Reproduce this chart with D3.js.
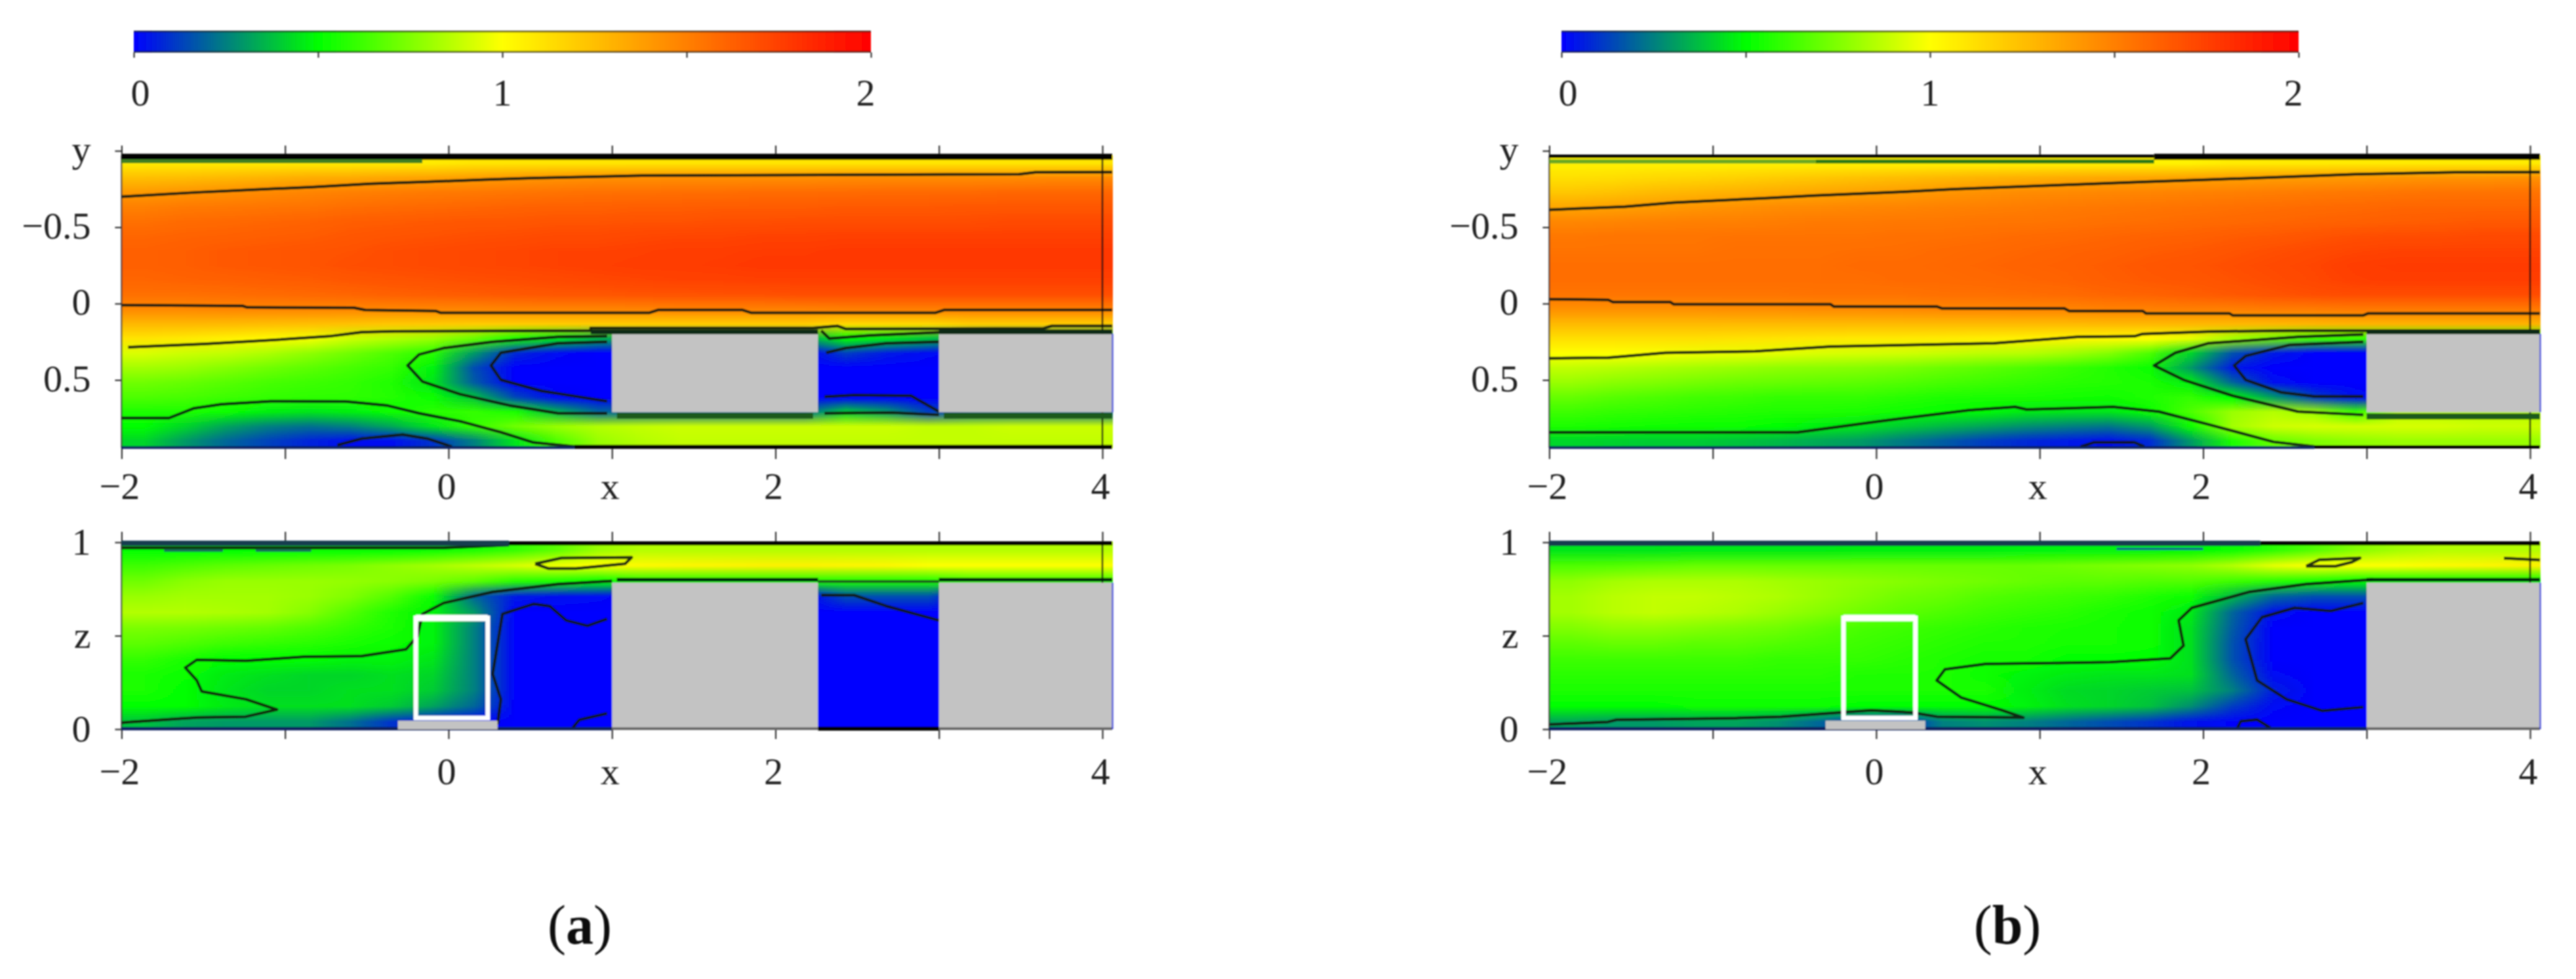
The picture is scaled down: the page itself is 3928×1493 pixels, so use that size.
<!DOCTYPE html>
<html>
<head>
<meta charset="utf-8">
<script src="https://cdn.jsdelivr.net/npm/d3@7"></script>
<style>
html, body { margin: 0; padding: 0; background: #fff; }
svg { display: block; font-family: "Liberation Serif", serif; }
</style>
</head>
<body>
<div id="chart"></div>
<script>
// colour bar
const colorStops = [0, 0.5, 1, 2];
const colorRamp = ["#0000ff", "#00ff00", "#ffff00", "#ff0000"];
const barTicks = [0, 0.5, 1, 1.5, 2];
const barLabels = [0, 1, 2];

// velocity, rows top to bottom, 24 columns x = -2 .. 4.06
const fieldATop = [
[1.08,1.08,1.08,1.08,1.08,1.08,1.08,1.08,1.1,1.1,1.1,1.1,1.1,1.1,1.1,1.1,1.1,1.1,1.1,1.1,1.1,1.1,1.1,1.1],
[1.25,1.26,1.28,1.3,1.32,1.33,1.35,1.36,1.38,1.4,1.42,1.43,1.44,1.44,1.44,1.44,1.44,1.45,1.45,1.45,1.45,1.45,1.46,1.46],
[1.4,1.42,1.44,1.46,1.48,1.5,1.51,1.52,1.53,1.54,1.55,1.56,1.56,1.57,1.57,1.58,1.58,1.58,1.59,1.59,1.59,1.6,1.6,1.6],
[1.5,1.52,1.53,1.54,1.55,1.57,1.58,1.59,1.6,1.61,1.62,1.62,1.63,1.63,1.64,1.64,1.64,1.65,1.65,1.65,1.66,1.66,1.66,1.66],
[1.56,1.58,1.59,1.6,1.61,1.63,1.64,1.65,1.66,1.66,1.67,1.67,1.68,1.68,1.69,1.69,1.7,1.7,1.7,1.7,1.7,1.71,1.71,1.71],
[1.6,1.61,1.62,1.63,1.64,1.66,1.67,1.68,1.69,1.7,1.71,1.71,1.72,1.73,1.73,1.74,1.74,1.75,1.75,1.75,1.75,1.75,1.75,1.75],
[1.62,1.63,1.65,1.66,1.67,1.68,1.7,1.71,1.72,1.73,1.74,1.74,1.75,1.76,1.76,1.77,1.77,1.78,1.78,1.78,1.78,1.78,1.78,1.78],
[1.62,1.63,1.65,1.66,1.67,1.69,1.7,1.71,1.72,1.73,1.74,1.75,1.76,1.76,1.77,1.78,1.78,1.78,1.78,1.78,1.78,1.78,1.78,1.78],
[1.6,1.61,1.62,1.63,1.64,1.66,1.67,1.68,1.69,1.7,1.71,1.72,1.73,1.74,1.74,1.75,1.75,1.75,1.75,1.75,1.75,1.75,1.75,1.75],
[1.56,1.56,1.57,1.58,1.59,1.6,1.62,1.63,1.64,1.65,1.66,1.66,1.67,1.67,1.68,1.68,1.69,1.69,1.69,1.69,1.69,1.69,1.69,1.69],
[1.46,1.46,1.47,1.47,1.47,1.47,1.47,1.47,1.47,1.48,1.48,1.48,1.48,1.49,1.49,1.49,1.49,1.5,1.5,1.5,1.5,1.5,1.5,1.5],
[1.28,1.28,1.27,1.26,1.25,1.24,1.22,1.21,1.2,1.2,1.2,1.2,1.2,1.2,1.2,1.2,1.2,1.15,1.15,1.15,1.2,1.2,1.2,1.2],
[1.1,1.08,1.05,1.02,0.98,0.9,0.85,0.8,0.7,0.55,0.45,0.35,0.3,0.3,0.3,0.3,0.3,0.5,0.45,0.38,0.3,0.3,0.3,0.3],
[0.93,0.9,0.88,0.84,0.78,0.72,0.65,0.58,0.3,0.08,0.02,0,0,0,0,0,0,0.12,0.05,0.02,0,0,0,0],
[0.82,0.8,0.76,0.72,0.68,0.64,0.6,0.48,0.15,0,0,0,0,0,0,0,0,0,0,0,0,0,0,0],
[0.72,0.7,0.67,0.64,0.62,0.6,0.56,0.45,0.18,0,0,0,0,0,0,0,0,0,0,0,0,0,0,0],
[0.65,0.64,0.62,0.6,0.59,0.59,0.57,0.52,0.38,0.14,0.02,0,0,0,0,0,0,0,0,0,0,0,0,0],
[0.56,0.56,0.52,0.47,0.45,0.47,0.52,0.58,0.6,0.55,0.35,0.2,0.2,0.2,0.2,0.2,0.2,0.4,0.3,0.12,0.2,0.2,0.2,0.2],
[0.5,0.42,0.32,0.25,0.22,0.25,0.33,0.45,0.6,0.72,0.8,0.85,0.88,0.9,0.9,0.9,0.9,0.9,0.9,0.88,0.88,0.9,0.9,0.9],
[0.42,0.3,0.2,0.13,0.07,0.03,0.03,0.1,0.25,0.45,0.65,0.8,0.85,0.88,0.88,0.88,0.88,0.88,0.88,0.88,0.88,0.88,0.88,0.88]
];
const fieldBTop = [
[1.05,1.05,1.05,1.05,1.05,1.05,1.05,1.05,1.05,1.05,1.05,1.05,1.05,1.05,1.05,1.05,1.08,1.08,1.08,1.08,1.08,1.08,1.08,1.08],
[1.12,1.13,1.15,1.16,1.18,1.2,1.22,1.24,1.26,1.28,1.3,1.31,1.33,1.34,1.35,1.36,1.37,1.38,1.39,1.4,1.41,1.42,1.42,1.43],
[1.22,1.24,1.27,1.29,1.31,1.33,1.35,1.37,1.39,1.41,1.43,1.45,1.46,1.47,1.48,1.49,1.5,1.51,1.52,1.53,1.54,1.55,1.55,1.55],
[1.35,1.37,1.39,1.41,1.43,1.45,1.46,1.47,1.48,1.49,1.5,1.51,1.52,1.53,1.54,1.55,1.56,1.57,1.58,1.59,1.6,1.6,1.6,1.6],
[1.47,1.48,1.49,1.5,1.5,1.51,1.52,1.52,1.53,1.53,1.54,1.54,1.55,1.56,1.57,1.58,1.59,1.6,1.61,1.62,1.63,1.64,1.65,1.65],
[1.53,1.54,1.54,1.54,1.55,1.55,1.55,1.55,1.56,1.56,1.57,1.58,1.59,1.6,1.61,1.62,1.64,1.65,1.67,1.69,1.7,1.7,1.71,1.71],
[1.55,1.55,1.55,1.55,1.56,1.56,1.56,1.57,1.57,1.58,1.59,1.6,1.61,1.62,1.64,1.65,1.67,1.69,1.71,1.73,1.74,1.74,1.74,1.74],
[1.57,1.57,1.57,1.57,1.57,1.57,1.57,1.58,1.58,1.59,1.6,1.61,1.62,1.64,1.66,1.67,1.69,1.71,1.73,1.76,1.77,1.77,1.77,1.77],
[1.57,1.57,1.57,1.57,1.57,1.57,1.57,1.57,1.58,1.58,1.59,1.6,1.61,1.63,1.65,1.66,1.68,1.7,1.72,1.75,1.76,1.76,1.76,1.76],
[1.54,1.54,1.54,1.54,1.54,1.54,1.55,1.55,1.55,1.56,1.56,1.57,1.58,1.6,1.61,1.63,1.65,1.67,1.69,1.7,1.7,1.7,1.7,1.7],
[1.43,1.43,1.43,1.43,1.44,1.44,1.45,1.45,1.46,1.47,1.47,1.48,1.48,1.49,1.49,1.5,1.5,1.51,1.51,1.52,1.52,1.52,1.52,1.52],
[1.27,1.27,1.27,1.27,1.27,1.27,1.27,1.27,1.27,1.27,1.27,1.27,1.27,1.28,1.28,1.28,1.28,1.28,1.29,1.3,1.3,1.3,1.3,1.3],
[1.12,1.12,1.12,1.12,1.11,1.1,1.09,1.08,1.08,1.07,1.06,1.05,1.04,1.02,1.0,0.95,0.82,0.72,0.62,0.6,0.6,0.6,0.6,0.6],
[1.0,1.0,0.99,0.97,0.96,0.95,0.93,0.92,0.91,0.89,0.87,0.86,0.82,0.76,0.65,0.42,0.16,0.05,0,0,0,0,0,0],
[0.88,0.86,0.84,0.82,0.8,0.78,0.77,0.76,0.74,0.71,0.68,0.65,0.61,0.57,0.52,0.3,0.05,0,0,0,0,0,0,0],
[0.8,0.77,0.75,0.73,0.71,0.7,0.69,0.68,0.66,0.64,0.62,0.6,0.58,0.57,0.55,0.47,0.2,0.03,0,0,0,0,0,0],
[0.7,0.67,0.65,0.63,0.62,0.6,0.6,0.6,0.58,0.56,0.55,0.55,0.54,0.53,0.56,0.6,0.5,0.3,0.12,0.03,0,0,0,0],
[0.62,0.6,0.59,0.58,0.57,0.56,0.56,0.55,0.53,0.51,0.49,0.46,0.45,0.45,0.52,0.65,0.8,0.85,0.8,0.6,0.85,0.85,0.85,0.85],
[0.55,0.54,0.53,0.52,0.52,0.5,0.47,0.45,0.4,0.36,0.32,0.28,0.25,0.23,0.3,0.52,0.82,0.9,0.92,0.92,0.92,0.92,0.9,0.9],
[0.42,0.41,0.4,0.4,0.38,0.36,0.33,0.3,0.24,0.18,0.12,0.08,0.05,0.03,0.08,0.3,0.55,0.7,0.75,0.78,0.8,0.8,0.8,0.8]
];
const fieldABottom = [
[0.5,0.5,0.5,0.5,0.5,0.5,0.5,0.52,0.55,0.6,0.68,0.8,0.85,0.85,0.85,0.85,0.85,0.85,0.85,0.85,0.85,0.85,0.85,0.85],
[0.62,0.65,0.68,0.7,0.72,0.74,0.78,0.82,0.87,0.92,0.97,1.0,1.02,1.03,1.04,1.05,1.05,1.04,1.03,1.0,1.0,1.0,1.0,1.0],
[0.72,0.77,0.8,0.8,0.8,0.79,0.77,0.74,0.68,0.58,0.55,0.5,0.55,0.55,0.55,0.55,0.55,0.55,0.55,0.55,0.6,0.6,0.6,0.6],
[0.8,0.82,0.82,0.82,0.8,0.75,0.66,0.52,0.2,0.05,0.03,0.02,0,0,0,0,0,0.15,0.15,0.15,0,0,0,0],
[0.85,0.85,0.84,0.82,0.76,0.66,0.56,0.48,0.3,0,0,0,0,0,0,0,0,0,0,0,0,0,0,0],
[0.74,0.73,0.71,0.69,0.65,0.6,0.55,0.48,0.25,0,0,0,0,0,0,0,0,0,0,0,0,0,0,0],
[0.68,0.65,0.62,0.6,0.58,0.55,0.52,0.48,0.25,0,0,0,0,0,0,0,0,0,0,0,0,0,0,0],
[0.6,0.55,0.5,0.5,0.5,0.48,0.48,0.45,0.25,0,0,0,0,0,0,0,0,0,0,0,0,0,0,0],
[0.55,0.52,0.46,0.44,0.42,0.42,0.44,0.42,0.25,0,0,0,0,0,0,0,0,0,0,0,0,0,0,0],
[0.55,0.5,0.45,0.42,0.42,0.44,0.44,0.4,0.25,0,0,0,0,0,0,0,0,0,0,0,0,0,0,0],
[0.5,0.5,0.46,0.44,0.44,0.44,0.4,0.32,0.2,0,0,0,0,0,0,0,0,0,0,0,0,0,0,0],
[0.38,0.32,0.3,0.3,0.3,0.22,0.1,0.05,0.02,0,0,0,0,0,0,0,0,0,0,0,0,0,0,0]
];
const fieldBBottom = [
[0.45,0.45,0.45,0.46,0.46,0.46,0.46,0.47,0.47,0.47,0.47,0.48,0.48,0.48,0.48,0.49,0.52,0.58,0.66,0.76,0.82,0.85,0.85,0.85],
[0.65,0.66,0.68,0.7,0.7,0.7,0.7,0.7,0.7,0.7,0.7,0.7,0.72,0.74,0.76,0.78,0.85,0.95,1,1,1,1.02,1.03,1.05],
[0.78,0.82,0.84,0.84,0.84,0.82,0.8,0.78,0.76,0.74,0.72,0.7,0.68,0.68,0.66,0.66,0.62,0.58,0.54,0.5,0.5,0.5,0.5,0.5],
[0.82,0.86,0.88,0.88,0.86,0.84,0.8,0.76,0.72,0.7,0.66,0.64,0.62,0.6,0.56,0.52,0.36,0.2,0.15,0.15,0.15,0.15,0.15,0.15],
[0.82,0.86,0.88,0.86,0.84,0.8,0.76,0.72,0.68,0.65,0.62,0.6,0.58,0.55,0.52,0.46,0.2,0.03,0,0,0,0,0,0],
[0.75,0.78,0.78,0.76,0.74,0.72,0.68,0.64,0.62,0.6,0.58,0.56,0.55,0.54,0.52,0.44,0.18,0,0,0,0,0,0,0],
[0.68,0.7,0.7,0.68,0.68,0.66,0.64,0.62,0.6,0.58,0.56,0.56,0.54,0.54,0.52,0.44,0.16,0,0,0,0,0,0,0],
[0.62,0.62,0.62,0.62,0.62,0.6,0.6,0.6,0.58,0.56,0.54,0.54,0.5,0.5,0.5,0.44,0.16,0,0,0,0,0,0,0],
[0.58,0.58,0.58,0.58,0.58,0.58,0.58,0.56,0.56,0.56,0.52,0.48,0.46,0.45,0.45,0.44,0.2,0.02,0,0,0,0,0,0],
[0.55,0.55,0.55,0.55,0.55,0.55,0.55,0.55,0.55,0.55,0.55,0.47,0.43,0.42,0.4,0.38,0.25,0.06,0,0,0,0,0,0],
[0.5,0.5,0.5,0.52,0.52,0.52,0.52,0.5,0.5,0.5,0.5,0.48,0.44,0.42,0.38,0.28,0.12,0.02,0,0,0,0,0,0],
[0.32,0.3,0.3,0.32,0.32,0.28,0.2,0.1,0.08,0.25,0.28,0.25,0.2,0.15,0.1,0.04,0.01,0,0,0,0,0,0,0]
];

// contour lines as [x, y]
const contoursATop = [
[[-2,-0.7],[-1.54,-0.728],[-1.21,-0.745],[-0.83,-0.763],[-0.48,-0.784],[-0.13,-0.797],[0.22,-0.811],[0.52,-0.822],[1.18,-0.838],[2.28,-0.842],[3.49,-0.847],[3.59,-0.859],[4.06,-0.861]],
[[-2,0.01],[-1.26,0.015],[-1.23,0.025],[-0.58,0.027],[-0.51,0.042],[-0.08,0.048],[-0.05,0.06],[1.23,0.06],[1.28,0.042],[1.8,0.042],[1.85,0.06],[2.98,0.06],[3.03,0.042],[4.06,0.042]],
[[-1.96,0.285],[-1.49,0.264],[-1.14,0.243],[-0.73,0.214],[-0.53,0.187],[-0.33,0.181],[0.87,0.177],[0.87,0.16],[2.23,0.16],[2.38,0.146],[2.43,0.166],[3.64,0.162],[3.69,0.146],[4.06,0.146]],
[[0.97,0.214],[0.67,0.218],[0.27,0.25],[-0.03,0.291],[-0.18,0.333],[-0.25,0.405],[-0.16,0.51],[0.07,0.593],[0.37,0.666],[0.67,0.718],[0.97,0.718]],
[[0.97,0.25],[0.67,0.26],[0.32,0.322],[0.26,0.405],[0.32,0.499],[0.57,0.572],[0.97,0.639]],
[[2.31,0.322],[2.43,0.291],[2.68,0.26],[3,0.25]],
[[2.3,0.609],[2.48,0.599],[2.83,0.603],[3,0.707]],
[[2.28,0.177],[2.33,0.229],[2.58,0.208],[3.03,0.187]],
[[2.3,0.718],[2.71,0.713],[3,0.728]],
[[-2,0.749],[-1.71,0.749],[-1.56,0.686],[-1.39,0.659],[-1.09,0.639],[-0.63,0.641],[-0.38,0.666],[-0.18,0.718],[0.07,0.77],[0.32,0.842],[0.52,0.909],[0.77,0.936]],
[[-0.68,0.926],[-0.53,0.884],[-0.28,0.857],[-0.13,0.884],[0.02,0.936]]
];
const contoursBTop = [
[[-2,-0.614],[-1.54,-0.634],[-1.24,-0.661],[-0.66,-0.691],[-0.38,-0.707],[0.17,-0.732],[0.47,-0.749],[1.23,-0.78],[1.65,-0.797],[2.03,-0.811],[2.93,-0.847],[3.54,-0.859],[4.06,-0.861]],
[[-2,-0.029],[-1.64,-0.025],[-1.61,-0.01],[-1.26,-0.01],[-1.24,0.004],[-0.28,0.004],[-0.26,0.019],[0.37,0.019],[0.4,0.031],[1.15,0.031],[1.18,0.048],[1.63,0.048],[1.65,0.064],[2.16,0.064],[2.18,0.077],[2.98,0.077],[3.01,0.064],[4.06,0.064]],
[[-2,0.358],[-1.64,0.354],[-1.29,0.322],[-0.74,0.312],[-0.28,0.281],[0.22,0.27],[0.72,0.26],[1.23,0.218],[1.58,0.214],[1.63,0.198],[2.03,0.183],[2.53,0.177],[3.04,0.177],[4.06,0.177]],
[[-2,0.842],[-0.48,0.842],[0.02,0.77],[0.57,0.697],[0.85,0.676],[0.92,0.693],[1.45,0.676],[1.73,0.707],[2.03,0.79],[2.43,0.905],[2.68,0.936]],
[[1.25,0.936],[1.33,0.909],[1.58,0.909],[1.64,0.936]],
[[2.98,0.202],[2.58,0.218],[2.03,0.26],[1.83,0.322],[1.7,0.405],[1.88,0.499],[2.18,0.603],[2.58,0.707],[2.98,0.728]],
[[2.98,0.25],[2.53,0.27],[2.26,0.343],[2.19,0.405],[2.26,0.499],[2.48,0.582],[2.68,0.607],[2.98,0.607]]
];
const contoursABottom = [
[[-2,0.97],[-0.03,0.97],[0.37,0.986]],
[[0.53,0.885],[0.69,0.916],[1.12,0.919],[1.08,0.885],[0.78,0.86],[0.61,0.86],[0.53,0.885]],
[[-2,0.034],[-1.94,0.039],[-1.54,0.062],[-1.24,0.067],[-1.05,0.105],[-1.24,0.16],[-1.51,0.202],[-1.54,0.261],[-1.61,0.329],[-1.54,0.371],[-1.24,0.366],[-0.88,0.388],[-0.53,0.391],[-0.26,0.427],[-0.19,0.497],[-0.16,0.616],[-0.03,0.675],[0.27,0.734],[0.67,0.776],[1,0.793]],
[[0.3,0.025],[0.32,0.16],[0.27,0.295],[0.33,0.616],[0.52,0.67],[0.62,0.658],[0.72,0.582],[0.85,0.553],[0.97,0.59]],
[[0.76,0.008],[0.8,0.05],[0.97,0.084]],
[[2.28,0.717],[2.48,0.717],[2.68,0.658],[3,0.582]]
];
const contoursBBottom = [
[[-2,0.025],[-1.64,0.039],[-1.59,0.05],[-0.86,0.059],[-0.58,0.067],[-0.23,0.089],[-0.03,0.101],[0.22,0.089],[0.37,0.067],[0.9,0.062],[0.77,0.101],[0.52,0.169],[0.37,0.261],[0.42,0.32],[0.67,0.349],[1.13,0.354],[1.43,0.359],[1.8,0.379],[1.88,0.447],[1.85,0.582],[1.93,0.649],[2.28,0.734],[2.63,0.776],[3.04,0.801]],
[[2.98,0.675],[2.78,0.632],[2.56,0.649],[2.36,0.599],[2.26,0.481],[2.33,0.261],[2.51,0.16],[2.73,0.098],[2.98,0.118]],
[[2.21,0.008],[2.23,0.042],[2.33,0.051],[2.41,0.008]],
[[2.63,0.872],[2.71,0.906],[2.96,0.916],[2.91,0.894],[2.81,0.872],[2.63,0.872]],
[[3.84,0.915],[4.06,0.905]]
];

// axis ticks
const xTicks = [-2, -1, 0, 1, 2, 3, 4];
const xTickLabels = ["\u22122", "", "0", "x", "2", "", "4"];
const yTicks = [-1, -0.5, 0, 0.5];
const yTickLabels = ["y", "\u22120.5", "0", "0.5"];
const zTicks = [0, 0.5, 1];
const zTickLabels = ["0", "z", "1"];

const W = 3928, H = 1493;
const color = d3.scaleLinear().domain(colorStops).range(colorRamp).clamp(true);

const svg = d3.select("#chart").append("svg")
  .attr("width", W).attr("height", H).attr("viewBox", `0 0 ${W} ${H}`);
svg.append("rect").attr("width", W).attr("height", H).attr("fill", "#fff");

const defs = svg.append("defs");
const grad = defs.append("linearGradient").attr("id", "ramp");
colorStops.forEach((s, i) => grad.append("stop").attr("offset", s / 2).attr("stop-color", colorRamp[i]));
defs.append("filter").attr("id", "soft").attr("x", "-2%").attr("y", "-2%").attr("width", "104%").attr("height", "104%")
  .append("feGaussianBlur").attr("stdDeviation", 0.9);

const root = svg.append("g").attr("filter", "url(#soft)");

// the browser smooths the small picture when it stretches it
function fieldImage(field) {
  const canvas = document.createElement("canvas");
  canvas.width = field[0].length;
  canvas.height = field.length;
  const ctx = canvas.getContext("2d");
  field.forEach((row, j) => row.forEach((v, i) => {
    ctx.fillStyle = color(v);
    ctx.fillRect(i, j, 1, 1);
  }));
  return canvas.toDataURL();
}

function colorBar(g, x0, x1) {
  const x = d3.scaleLinear().domain([0, 2]).range([x0, x1]);
  g.append("rect").attr("x", x0).attr("y", 47).attr("width", x1 - x0).attr("height", 33).attr("fill", "url(#ramp)");
  [48, 79].forEach(y => g.append("line").attr("x1", x0).attr("x2", x1).attr("y1", y).attr("y2", y)
    .attr("stroke", "#222").attr("stroke-width", 2.5).attr("opacity", 0.75));
  const axis = g.append("g").attr("transform", "translate(0,80)")
    .call(d3.axisBottom(x).tickValues(barTicks).tickSize(8).tickFormat(""));
  axis.select(".domain").remove();
  axis.selectAll("line").attr("stroke", "#222").attr("stroke-width", 2);
  g.selectAll("text.barlabel").data(barLabels).join("text").attr("class", "barlabel")
    .attr("x", d => x(d) + (d === 0 ? 10 : d === 2 ? -8 : 0))
    .attr("y", 161).attr("text-anchor", "middle").attr("font-size", 58).attr("fill", "#222")
    .text(d => d);
}

// one heat panel with frame, ticks, contours
function heatPanel(parent, opt) {
  const { x, y, field, contours, yt, ytl, rangeY, tickTop, tickBot, labelY } = opt;
  const g = parent.append("g");
  g.append("image")
    .attr("x", x(-2)).attr("y", rangeY[0])
    .attr("width", x(4.064) - x(-2)).attr("height", rangeY[1] - rangeY[0])
    .attr("preserveAspectRatio", "none")
    .attr("href", fieldImage(field));

  const line = d3.line().x(d => x(d[0])).y(d => y(d[1]));
  g.selectAll("path.contour").data(contours).join("path").attr("class", "contour")
    .attr("d", line).attr("fill", "none").attr("stroke", "#101a0c").attr("stroke-opacity", 0.9)
    .attr("stroke-width", 4.5).attr("stroke-linejoin", "round");

  const bottom = g.append("g").attr("transform", `translate(0,${rangeY[1]})`)
    .call(d3.axisBottom(x).tickValues(xTicks).tickSize(tickBot).tickFormat(""));
  const top = g.append("g").attr("transform", `translate(0,${rangeY[0]})`)
    .call(d3.axisTop(x).tickValues(xTicks).tickSize(tickTop).tickFormat(""));
  const left = g.append("g").attr("transform", `translate(${x(-2)},0)`)
    .call(d3.axisLeft(y).tickValues(yt).tickSize(10).tickFormat(""));
  [bottom, top, left].forEach(a => {
    a.select(".domain").remove();
    a.selectAll("line").attr("stroke", "#333").attr("stroke-width", 2.2);
  });

  // frame lines
  g.append("line").attr("x1", x(-2)).attr("x2", x(-2)).attr("y1", rangeY[0]).attr("y2", rangeY[1]).attr("stroke", "#333").attr("stroke-width", 2);
  g.append("line").attr("x1", x(4)).attr("x2", x(4)).attr("y1", rangeY[0]).attr("y2", rangeY[1]).attr("stroke", "#111").attr("stroke-width", 2.5);

  g.selectAll("text.xl").data(xTicks).join("text").attr("class", "xl")
    .attr("x", d => x(d) - 3).attr("y", labelY)
    .attr("text-anchor", "middle").attr("font-size", 58).attr("fill", "#222")
    .text((d, i) => xTickLabels[i]);
  g.selectAll("text.yl").data(yt).join("text").attr("class", "yl")
    .attr("x", x(-2) - 47).attr("y", (d) => y(d)).attr("dy", opt.nudge)
    .attr("text-anchor", "end").attr("font-size", 58).attr("fill", "#222")
    .text((d, i) => ytl[i]);
}

function block(g, x, y, xr, yr) {
  g.append("rect").attr("x", x(xr[0])).attr("y", y(yr[0]))
    .attr("width", x(xr[1]) - x(xr[0])).attr("height", y(yr[1]) - y(yr[0]))
    .attr("fill", "#c3c3c3");
}
function band(g, x, y, xr, v, stroke, w) {
  g.append("line").attr("x1", x(xr[0])).attr("x2", x(xr[1])).attr("y1", y(v)).attr("y2", y(v))
    .attr("stroke", stroke).attr("stroke-width", w);
}
function whiteBox(g, x, y, xr, yr, w) {
  g.append("rect").attr("x", x(xr[0])).attr("y", y(yr[1]))
    .attr("width", x(xr[1]) - x(xr[0])).attr("height", y(yr[0]) - y(yr[1]))
    .attr("fill", "none").attr("stroke", "#fff").attr("stroke-width", w);
}

const yScale = d3.scaleLinear().domain([-0.5, 0.5]).range([346.5, 579.5]);
const zScale = d3.scaleLinear().domain([0, 1]).range([1112, 827]);
const blue = "#2a35d8", wallDark = "#000", navy = "#0a2060", teal = "#123c50", forest = "#1c5a1c";

function panel(off, caption, d) {
  const g = root.append("g");
  const x = d3.scaleLinear().domain([-2, 4]).range([185.4 + off, 1681 + off]);
  colorBar(g, 204 + off, 1328 + off);

  heatPanel(g, { x, y: yScale, field: d.top, contours: d.ctop, yt: yTicks, ytl: yTickLabels,
    rangeY: [237, 683], tickTop: 15, tickBot: 17, labelY: 761, nudge: "0.3em" });
  heatPanel(g, { x, y: zScale, field: d.bottom, contours: d.cbottom, yt: zTicks, ytl: zTickLabels,
    rangeY: [826, 1112], tickTop: 15, tickBot: 15, labelY: 1196, nudge: "0.32em" });

  d.draw(g, x);

  // cylinder marks
  whiteBox(g, x, yScale, [-0.22, 0.24], [0.25, 0.697], 4);
  whiteBox(g, x, zScale, [-0.2, 0.24], [0.06, 0.595], 7);
  band(g, x, zScale, [-0.2, 0.24], 0.595, "#fff", 10);
  block(g, x, zScale, [-0.31, 0.3], [0.045, 0]);

  const cap = g.append("text").attr("x", off + 884).attr("y", 1439)
    .attr("text-anchor", "middle").attr("font-size", 84).attr("fill", "#111");
  cap.append("tspan").text("(");
  cap.append("tspan").attr("font-weight", 700).text(caption);
  cap.append("tspan").text(")");
}

panel(0, "a", {
  top: fieldATop, bottom: fieldABottom, ctop: contoursATop, cbottom: contoursABottom,
  draw(g, x) {
    block(g, x, yScale, [1, 2.26], [0.198, 0.711]);
    block(g, x, yScale, [3, 4.06], [0.198, 0.711]);
    block(g, x, zScale, [1, 2.26], [0.784, 0]);
    block(g, x, zScale, [3, 4.06], [0.784, 0]);
    band(g, x, yScale, [-2, 4.06], -0.961, wallDark, 9);
    band(g, x, yScale, [-2, -0.16], -0.932, "#3f7f20", 6);
    band(g, x, yScale, [0.77, 4.06], 0.938, wallDark, 6);
    band(g, x, yScale, [-2, 0.77], 0.942, navy, 4);
    band(g, x, yScale, [0.87, 2.26], 0.185, "#0b2a14", 7);
    band(g, x, yScale, [3, 4.06], 0.185, "#0b2a14", 7);
    band(g, x, yScale, [1.03, 2.23], 0.734, forest, 9);
    band(g, x, yScale, [3.03, 4.06], 0.734, forest, 9);
    band(g, x, zScale, [-2, 0.37], 0.995, teal, 8);
    band(g, x, zScale, [0.37, 4.06], 0.995, wallDark, 6);
    band(g, x, zScale, [-1.74, -1.38], 0.956, "#14705a", 4);
    band(g, x, zScale, [-1.18, -0.84], 0.956, "#14705a", 4);
    band(g, x, zScale, [1.03, 2.26], 0.8, "#061a08", 5);
    band(g, x, zScale, [3, 4.06], 0.8, "#061a08", 5);
    band(g, x, zScale, [2.26, 3], 0.79, forest, 4);
    band(g, x, zScale, [-2, 1], 0.003, navy, 5);
    band(g, x, zScale, [2.26, 3], 0.003, wallDark, 6);
    band(g, x, zScale, [1, 2.26], 0.003, "#666", 4);
    band(g, x, zScale, [3, 4.06], 0.003, "#666", 4);
    [yScale, zScale].forEach(s => g.append("line").attr("x1", x(4.062)).attr("x2", x(4.062))
      .attr("y1", s === yScale ? s(0.198) : s(0.784)).attr("y2", s === yScale ? s(0.711) : s(0))
      .attr("stroke", blue).attr("stroke-width", 2));
  }
});

panel(2177, "b", {
  top: fieldBTop, bottom: fieldBBottom, ctop: contoursBTop, cbottom: contoursBBottom,
  draw(g, x) {
    block(g, x, yScale, [3, 4.06], [0.198, 0.711]);
    block(g, x, zScale, [3, 4.06], [0.784, 0]);
    band(g, x, yScale, [1.7, 4.06], -0.961, wallDark, 9);
    band(g, x, yScale, [-2, 1.7], -0.965, wallDark, 5);
    band(g, x, yScale, [-2, -0.37], -0.93, "#6aa820", 6);
    band(g, x, yScale, [-0.37, 1.7], -0.93, "#2c7a18", 6);
    band(g, x, yScale, [2.68, 4.06], 0.938, wallDark, 5);
    band(g, x, yScale, [-2, 2.68], 0.942, navy, 4);
    band(g, x, yScale, [3, 4.06], 0.185, "#0b2a14", 7);
    band(g, x, yScale, [3, 4.06], 0.738, forest, 9);
    band(g, x, zScale, [-2, 2.35], 0.995, teal, 8);
    band(g, x, zScale, [2.35, 4.06], 0.995, wallDark, 6);
    band(g, x, zScale, [1.47, 2], 0.965, "#107080", 4);
    band(g, x, zScale, [3, 4.06], 0.8, "#061a08", 5);
    band(g, x, zScale, [-2, 3], 0.003, navy, 5);
    band(g, x, zScale, [3, 4.06], 0.003, "#666", 4);
    [yScale, zScale].forEach(s => g.append("line").attr("x1", x(4.062)).attr("x2", x(4.062))
      .attr("y1", s === yScale ? s(0.198) : s(0.784)).attr("y2", s === yScale ? s(0.711) : s(0))
      .attr("stroke", blue).attr("stroke-width", 2));
  }
});
</script>
</body>
</html>
